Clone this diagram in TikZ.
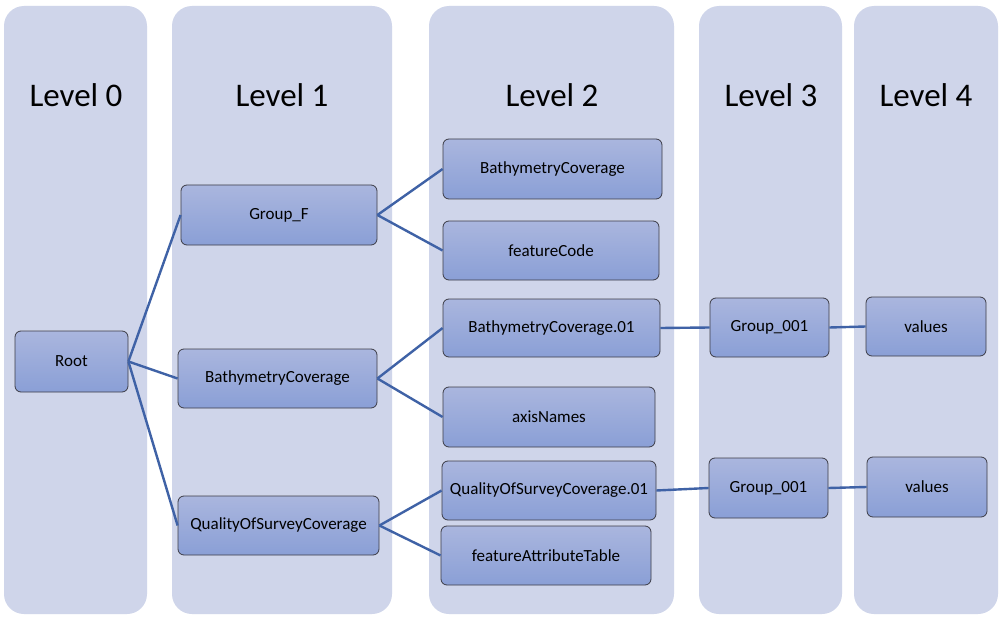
\documentclass[tikz,border=0pt]{standalone}
\usepackage{fontspec}
\setmainfont{Carlito}
\begin{document}
\begin{tikzpicture}[x=1pt,y=-1pt,
  col/.style={fill=colbg,draw=none,rounded corners=20pt},
  lvl/.style={font=\fontsize{33}{36}\selectfont,text=black},
  box/.style={draw=boxline,line width=0.8pt,rounded corners=6pt,top color=boxtop,bottom color=boxbot,
    font=\fontsize{17}{20}\selectfont,text=black,inner sep=0pt},
  conn/.style={draw=linkblue,line width=2.4pt}]
\definecolor{colbg}{HTML}{CFD5EA}
\definecolor{boxtop}{HTML}{AAB6DE}
\definecolor{boxbot}{HTML}{8A9FD6}
\definecolor{boxline}{HTML}{3C3C46}
\definecolor{linkblue}{HTML}{3F62A6}
\useasboundingbox (0,0) rectangle (1002,623);
\fill[white] (0,0) rectangle (1002,623);
% columns
\path[col] (4,6) rectangle (147,614);
\path[col] (172,6) rectangle (392,614);
\path[col] (429,6) rectangle (674,614);
\path[col] (699,6) rectangle (842,614);
\path[col] (854,6) rectangle (998,614);
% level labels
\node[lvl] (l0) at (76,95) {Level 0};
\node[lvl] (l1) at (282,95) {Level 1};
\node[lvl] (l2) at (552,95) {Level 2};
\node[lvl] (l3) at (771,95) {Level 3};
\node[lvl] (l4) at (926,95) {Level 4};
% nodes
\node[box,minimum width=113pt,minimum height=61pt] (root) at (71.5,361.5) {Root};
\node[box,minimum width=196pt,minimum height=60pt] (gf) at (279,215) {Group\_F};
\node[box,minimum width=199pt,minimum height=59pt] (bc1) at (277.5,378.5) {BathymetryCoverage};
\node[box,minimum width=201pt,minimum height=59pt] (qs1) at (278.5,525.5) {QualityOfSurveyCoverage};
\node[box,minimum width=219pt,minimum height=60pt] (bc2) at (552.5,169) {BathymetryCoverage};
\node[box,minimum width=216pt,minimum height=59pt] (fc) at (551,250.5) {featureCode};
\node[box,minimum width=217pt,minimum height=58pt] (bc01) at (551.5,328) {BathymetryCoverage.01};
\node[box,minimum width=212pt,minimum height=60pt] (ax) at (549,417) {axisNames};
\node[box,minimum width=214pt,minimum height=59pt] (qs01) at (549,490.5) {QualityOfSurveyCoverage.01};
\node[box,minimum width=210pt,minimum height=59pt] (fat) at (546,555.5) {featureAttributeTable};
\node[box,minimum width=119pt,minimum height=59pt] (g1) at (769.5,327.5) {Group\_001};
\node[box,minimum width=120pt,minimum height=59pt] (v1) at (926,326.5) {values};
\node[box,minimum width=119pt,minimum height=60pt] (g2) at (768.5,488) {Group\_001};
\node[box,minimum width=120pt,minimum height=60pt] (v2) at (927,487) {values};
% connectors
\draw[conn] (root.east) -- (gf.west);
\draw[conn] (root.east) -- (bc1.west);
\draw[conn] (root.east) -- (qs1.west);
\draw[conn] (gf.east) -- (bc2.west);
\draw[conn] (gf.east) -- (fc.west);
\draw[conn] (bc1.east) -- (bc01.west);
\draw[conn] (bc1.east) -- (ax.west);
\draw[conn] (qs1.east) -- (qs01.west);
\draw[conn] (qs1.east) -- (fat.west);
\draw[conn] (bc01.east) -- (g1.west);
\draw[conn] (g1.east) -- (v1.west);
\draw[conn] (qs01.east) -- (g2.west);
\draw[conn] (g2.east) -- (v2.west);
\end{tikzpicture}
\end{document}
